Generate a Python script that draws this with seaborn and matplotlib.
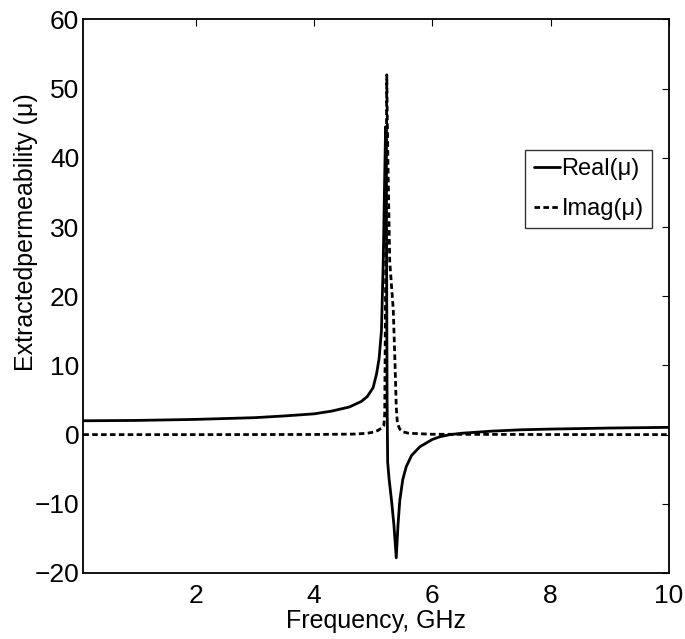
import matplotlib
matplotlib.use("Agg")
import matplotlib.pyplot as plt
import seaborn as sns
import pandas as pd

# ---- data ----
freq_real = [0.1, 1.0, 2.0, 3.0, 3.5, 4.0, 4.3, 4.6, 4.8, 4.9, 5.0, 5.06, 5.1,
             5.14, 5.17, 5.19, 5.21, 5.225, 5.235, 5.245, 5.27, 5.31, 5.35,
             5.39, 5.42, 5.45, 5.5, 5.56, 5.65, 5.79, 6.0, 6.13, 6.3, 6.5,
             7.0, 7.5, 8.0, 9.0, 10.0]
real_mu = [2.0, 2.05, 2.2, 2.45, 2.7, 3.0, 3.4, 4.0, 4.8, 5.5, 6.8, 8.9, 11.0,
           15.0, 25.0, 35.0, 44.5, 30.0, 5.0, -4.0, -6.5, -9.5, -13.0,
           -17.8, -13.0, -9.5, -6.5, -4.6, -3.0, -1.75, -0.7, -0.3, 0.0, 0.2,
           0.5, 0.7, 0.8, 0.95, 1.05]

freq_imag = [0.1, 2.0, 4.0, 4.7, 4.9, 5.0, 5.08, 5.15, 5.18, 5.195, 5.205,
             5.22, 5.23, 5.235, 5.25, 5.28, 5.34, 5.37, 5.39, 5.41, 5.45,
             5.5, 5.6, 6.0, 8.0, 10.0]
imag_mu = [0.0, 0.0, 0.02, 0.08, 0.2, 0.35, 0.6, 1.0, 1.3, 3.0, 15.0,
           35.0, 52.0, 48.0, 39.0, 25.0, 18.0, 10.0, 4.0, 1.6, 0.8,
           0.4, 0.2, 0.05, 0.01, 0.0]

series_labels = ["Real(\u03bc)", "Imag(\u03bc)"]
x_ticks = [2, 4, 6, 8, 10]
y_ticks = [-20, -10, 0, 10, 20, 30, 40, 50, 60]

df = pd.concat([
    pd.DataFrame({"f": freq_real, "mu": real_mu, "part": series_labels[0]}),
    pd.DataFrame({"f": freq_imag, "mu": imag_mu, "part": series_labels[1]}),
])

sns.set_style("white")
plt.rcParams["font.family"] = ["Liberation Sans", "DejaVu Sans"]
plt.rcParams["text.color"] = "black"
plt.rcParams["axes.labelcolor"] = "black"
plt.rcParams["xtick.color"] = "black"
plt.rcParams["ytick.color"] = "black"

fig = plt.figure(figsize=(6.85, 6.39), dpi=100)
ax = fig.add_axes([0.1216, 0.1033, 0.9766 - 0.1216, 0.9695 - 0.1033])

sns.lineplot(data=df, x="f", y="mu", hue="part", style="part",
             palette=["black", "black"],
             dashes={series_labels[0]: "", series_labels[1]: (2, 1.2)},
             linewidth=2.0, ax=ax, sort=False, estimator=None)

ax.set_xlim(0.1, 10)
ax.set_ylim(-20, 60)
ax.set_xticks(x_ticks)
ax.set_yticks(y_ticks)
ax.set_yticklabels([str(v).replace("-", "\u2212") for v in y_ticks])
ax.tick_params(axis="both", direction="in", length=5, width=0.8, labelsize=19,
               top=True, right=True, colors="black")
ax.tick_params(axis="x", pad=8)
ax.tick_params(axis="y", pad=3)
for s in ax.spines.values():
    s.set_linewidth(1.3)
    s.set_color("black")

ax.set_xlabel("Frequency, GHz", fontsize=18, labelpad=1)
ax.set_ylabel("Extractedpermeability (\u03bc)", fontsize=18)
ax.yaxis.set_label_coords(-0.078, 0.616)

leg = ax.legend(loc="upper right", bbox_to_anchor=(0.971, 0.764),
                fontsize=17, frameon=True, fancybox=False, handlelength=1.1,
                handletextpad=0.08, borderpad=0.35, labelspacing=0.75,
                borderaxespad=0)
leg.get_frame().set_edgecolor("black")
leg.get_frame().set_linewidth(1.0)
leg.set_title(None)

fig.savefig("out.png", dpi=100)
